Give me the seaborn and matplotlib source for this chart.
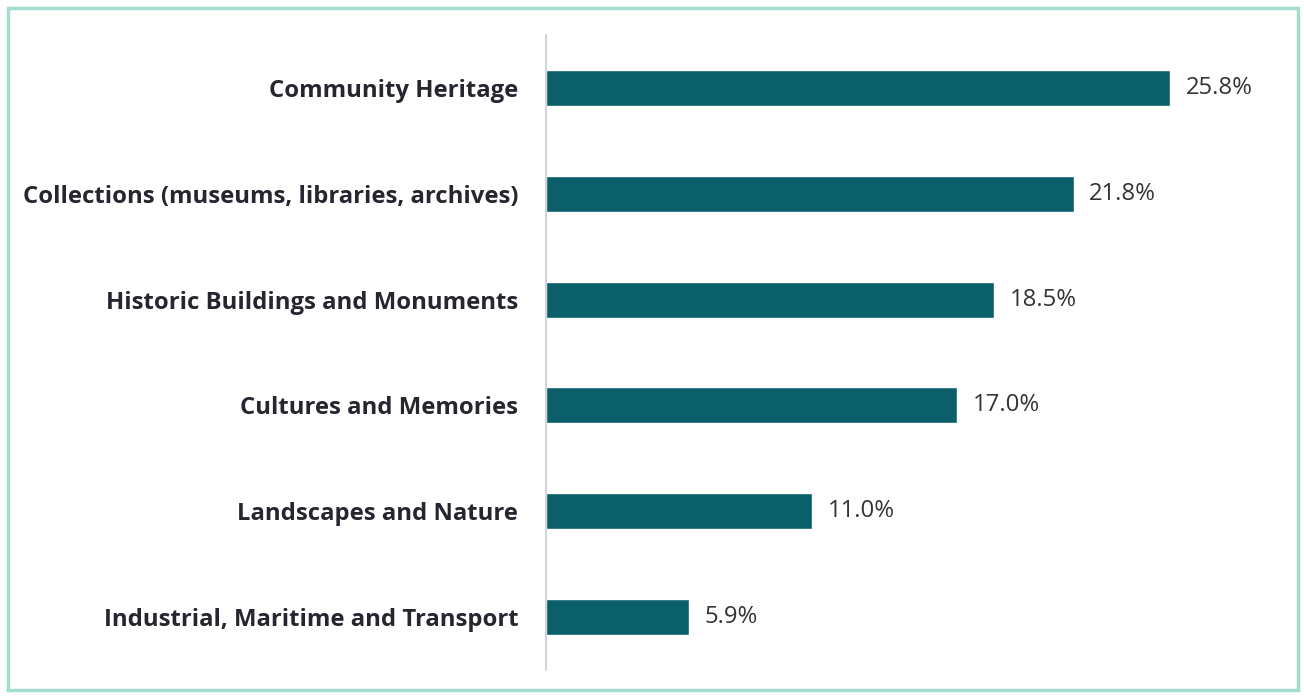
import matplotlib
matplotlib.use("Agg")
import matplotlib.pyplot as plt
import seaborn as sns
import pandas as pd
from matplotlib.patches import Rectangle

categories = [
    "Community Heritage",
    "Collections (museums, libraries, archives)",
    "Historic Buildings and Monuments",
    "Cultures and Memories",
    "Landscapes and Nature",
    "Industrial, Maritime and Transport",
]
values = [25.8, 21.8, 18.5, 17.0, 11.0, 5.9]
value_labels = ["25.8%", "21.8%", "18.5%", "17.0%", "11.0%", "5.9%"]

sns.set_theme(style="white")
plt.rcParams['font.family'] = ['Open Sans', 'DejaVu Sans']

df = pd.DataFrame({"category": categories, "value": values})

W, H = 1304, 696
fig = plt.figure(figsize=(W / 100, H / 100), dpi=100)
ax = fig.add_axes([546 / W, 1 - 670 / H, 726 / W, (670 - 35) / H])

sns.barplot(data=df, x="value", y="category", orient="h", color="#0b5f6b",
            width=0.34, saturation=1, ax=ax)

ax.set_xlim(0, 30)
ax.set_ylim(5.5, -0.5)
ax.set_xlabel("")
ax.set_ylabel("")
ax.set_xticks([])
for s in ["top", "right", "bottom"]:
    ax.spines[s].set_visible(False)
ax.spines["left"].set_color("#c8cad6")
ax.spines["left"].set_linewidth(1.2)
ax.tick_params(axis="y", length=0, pad=20)
for lbl in ax.get_yticklabels():
    lbl.set_fontweight("bold")
    lbl.set_fontsize(17.2)
    lbl.set_color("#262630")

for i, (v, t) in enumerate(zip(values, value_labels)):
    ax.text(v + 0.65, i, t, va="center", ha="left", fontsize=17.2, color="#333338")

fig.patches.append(Rectangle((8 / W, 6 / H), (W - 14) / W, (H - 14) / H,
                             transform=fig.transFigure, fill=False,
                             edgecolor="#a6dbcf", linewidth=2.5))

fig.savefig("out.png", dpi=100)
